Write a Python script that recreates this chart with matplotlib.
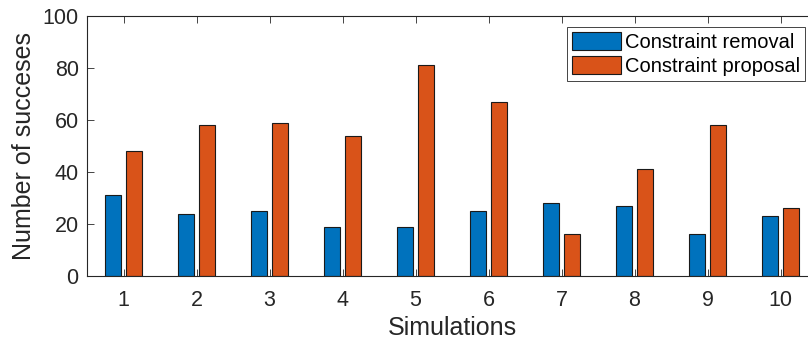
import numpy as np
import matplotlib.pyplot as plt

plt.rcParams['font.family'] = ['Liberation Sans', 'DejaVu Sans']

simulations = [1, 2, 3, 4, 5, 6, 7, 8, 9, 10]
removal = [31, 24, 25, 19, 19, 25, 28, 27, 16, 23]
proposal = [48, 58, 59, 54, 81, 67, 16, 41, 58, 26]

fig = plt.figure(figsize=(8.08, 3.45), dpi=100)
ax = fig.add_axes([87/808, 1 - 276/345, 730/808, 260/345])

x = np.array(simulations)
w = 0.23
ax.bar(x - 0.145, removal, w, color='#0072BD', edgecolor='#1a1a1a', linewidth=0.8, label='Constraint removal')
ax.bar(x + 0.145, proposal, w, color='#D95319', edgecolor='#1a1a1a', linewidth=0.8, label='Constraint proposal')

ax.set_xlim(0.5, 10.5)
ax.set_ylim(0, 100)
ax.set_xticks(simulations)
ax.set_yticks([0, 20, 40, 60, 80, 100])
ax.tick_params(direction='in', top=True, right=True, labelsize=15.5, colors='#262626', length=5, width=0.6)
ax.tick_params(axis='x', pad=10)
ax.tick_params(axis='y', pad=6)
for s in ax.spines.values():
    s.set_color('#262626')
    s.set_linewidth(0.8)
ax.set_xlabel('Simulations', fontsize=18, color='#262626', labelpad=4)
ax.set_ylabel('Number of succeses', fontsize=18, color='#262626', labelpad=5)

leg = ax.legend(loc='upper right', bbox_to_anchor=((805 - 87)/730, 1 - 11/260), fontsize=14.5,
                fancybox=False, framealpha=1, edgecolor='#262626', handlelength=2.4, handleheight=1.0,
                borderpad=0.25, labelspacing=0.2, handletextpad=0.2, borderaxespad=0)
leg.get_frame().set_linewidth(0.6)

fig.savefig('out.png', dpi=100)
